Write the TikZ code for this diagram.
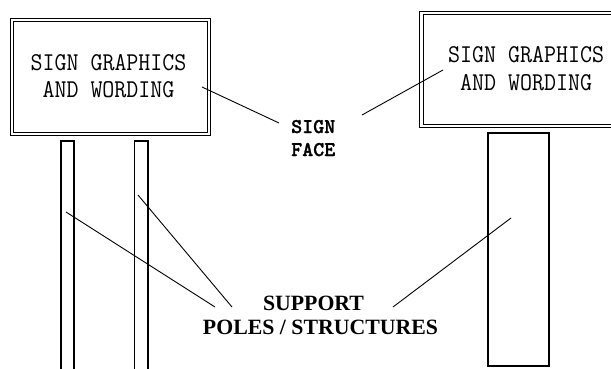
\documentclass[tikz,border=0pt]{standalone}
\usepackage{fontspec}
\usepackage{graphicx}
\newfontfamily\calloutfont{Liberation Serif}
\newfontfamily\facefont{lmmonolt10-bold.otf}[FakeBold=1.2]
\begin{document}
\begin{tikzpicture}[x=1pt,y=-1pt,
  signframe/.style={draw=black, line width=1.1pt, double=white, double distance=2.2pt,
                    inner sep=0pt, outer sep=0pt},
  pole/.style={draw=black, line width=1.3pt, inner sep=0pt, outer sep=0pt},
  leader/.style={draw=black, line width=0.9pt},
  signtext/.style={inner sep=0pt, anchor=base,
                   font=\ttfamily\fontsize{23.3}{26}\selectfont},
  facetext/.style={inner sep=0pt, anchor=base west,
                   font=\facefont\fontsize{21}{24}\selectfont},
  supporttext/.style={inner sep=0pt, anchor=base,
                      font=\calloutfont\bfseries\fontsize{21.8}{24}\selectfont}]
\useasboundingbox (0,0) rectangle (611,369);
\clip (0,0) rectangle (611,369);
\fill[white] (0,0) rectangle (611,369);

% sign panels
\node[signframe, minimum width=197pt, minimum height=114pt] (leftsign) at (110.5,77) {};
\node[signframe, minimum width=218.5pt, minimum height=113pt] (rightsign) at (530.75,69.5) {};

% support poles
\node[pole, minimum width=13pt, minimum height=239pt] (poleA) at (67.5,260.5) {};
\node[pole, minimum width=13.5pt, minimum height=239pt] (poleB) at (141.25,260.5) {};
\node[pole, minimum width=61pt, minimum height=233pt] (poleC) at (518.5,249.5) {};

% sign wording
\node[signtext] (lsign1) at (108.5,71) {\scalebox{1}[1.1]{SIGN GRAPHICS}};
\node[signtext] (lsign2) at (108.5,98) {\scalebox{1}[1.1]{AND WORDING}};
\node[signtext] (rsign1) at (526,63) {\scalebox{1}[1.1]{SIGN GRAPHICS}};
\node[signtext] (rsign2) at (526,91) {\scalebox{1}[1.1]{AND WORDING}};

% callout labels
\node[facetext] (face1) at (291,133) {SIGN};
\node[facetext] (face2) at (291,156) {FACE};
\node[supporttext] (sup1) at (313.5,310) {SUPPORT};
\node[supporttext] (sup2) at (320.5,334) {POLES / STRUCTURES};

% leader end points
\coordinate (faceL) at (279,123);
\coordinate (faceR) at (362,115);
\coordinate (inLeft) at (202,87);
\coordinate (inRight) at (443,70);
\coordinate (onA) at (66,212);
\coordinate (onB) at (138,195);
\coordinate (onC) at (511,218);
\coordinate (supL1) at (215,307);
\coordinate (supL2) at (232,307);
\coordinate (supR) at (393,307);

% leaders
\draw[leader] (inLeft) -- (faceL);
\draw[leader] (faceR) -- (inRight);
\draw[leader] (onA) -- (supL1);
\draw[leader] (onB) -- (supL2);
\draw[leader] (supR) -- (onC);
\end{tikzpicture}
\end{document}
